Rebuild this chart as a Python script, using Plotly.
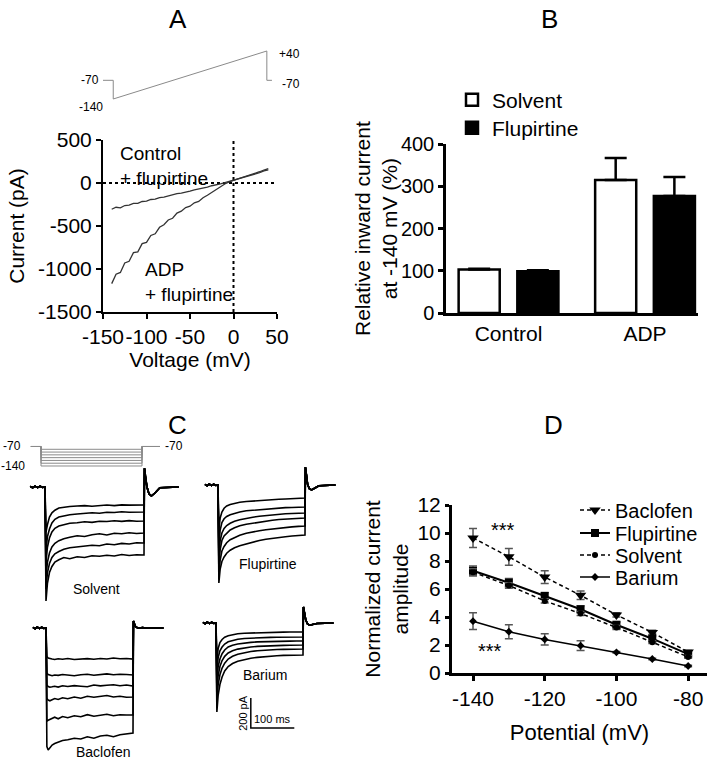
import plotly.graph_objects as go

W, H = 709, 762
FONT = "Liberation Sans, Arial, sans-serif"

# ---------------- Panel A data ----------------
ramp_mV = [-140, -135, -130, -125, -120, -115, -110, -105, -100, -95, -90, -85, -80,
           -75, -70, -65, -60, -55, -50, -45, -40, -35, -30, -25, -20, -15, -10, -5,
           0, 5, 10, 15, 20, 25, 30, 35, 40]
control_pA = [-305, -282, -290, -262, -258, -238, -236, -215, -210, -192, -188, -170, -163,
              -148, -140, -124, -117, -101, -94, -79, -70, -56, -47, -32, -24, -9, 4, 18,
              31, 46, 58, 76, 88, 106, 120, 140, 152]
adp_pA = [-1170, -1060, -1040, -930, -910, -810, -800, -705, -690, -610, -590, -515, -485,
          -430, -410, -350, -328, -285, -270, -230, -214, -172, -143, -108, -77, -39, -11, 13,
          29, 47, 61, 81, 97, 117, 131, 151, 168]
protoA_ms = [-20, 0, 0, 300, 300, 310]
protoA_mV = [-70, -70, -140, 40, -70, -70]
A_xtickvals = [-150, -100, -50, 0, 50]
A_xticktext = ["-150", "-100", "-50", "0", "50"]
A_ytickvals = [-1500, -1000, -500, 0, 500]
A_yticktext = ["-1500", "-1000", "-500", "0", "500"]

# ---------------- Panel B data ----------------
B_groups = ["Control", "ADP"]
B_solvent = [103, 315]
B_solvent_err = [2, 52]
B_flup = [99, 277]
B_flup_err = [2, 45]

# ---------------- Panel C data ----------------
C_pre_ms = [-30, -25, -20, -15, -10, -5, 0]
C_pre_pA = [4, -5, 6, -4, 5, -3, 0]
C_pulse_ms = [2, 5, 9, 14, 20, 28, 38, 50, 65, 80, 95, 110, 125, 140, 155, 170, 185, 200]
C_tail_ms = [201, 203, 206, 210, 215, 222, 232, 270]

solvent_traces = [
    [-300, -250, -200, -172, -155, -140, -135, -130, -127, -124, -128, -122, -120, -124, -119, -121, -118, -120],
    [-420, -330, -280, -240, -215, -200, -192, -185, -180, -177, -172, -175, -168, -170, -165, -168, -166, -167],
    [-500, -400, -340, -300, -275, -260, -250, -242, -238, -232, -236, -228, -230, -225, -229, -224, -228, -227],
    [-600, -500, -440, -400, -375, -358, -345, -335, -325, -330, -318, -312, -320, -308, -312, -305, -310, -307],
    [-680, -570, -510, -470, -445, -430, -415, -405, -400, -395, -388, -392, -380, -385, -376, -380, -372, -373],
    [-760, -640, -570, -530, -500, -485, -470, -478, -465, -470, -458, -462, -455, -460, -450, -457, -452, -453],
]
solvent_tail = [125, 60, 0, -45, -60, -40, -5, 0]

flupirtine_traces = [
    [-300, -220, -180, -155, -140, -130, -122, -115, -110, -106, -102, -100, -97, -95, -93, -90, -88, -87],
    [-400, -300, -250, -225, -210, -198, -188, -180, -172, -168, -163, -160, -157, -154, -151, -150, -148, -147],
    [-480, -370, -320, -290, -270, -255, -242, -232, -222, -215, -208, -203, -198, -195, -192, -190, -188, -187],
    [-540, -430, -370, -340, -320, -300, -285, -272, -262, -255, -245, -240, -235, -230, -228, -225, -222, -220],
    [-600, -500, -440, -410, -385, -365, -350, -335, -322, -312, -305, -298, -292, -287, -283, -279, -276, -273],
    [-653, -560, -510, -480, -455, -435, -418, -405, -392, -380, -370, -362, -355, -350, -345, -340, -336, -333],
]
flupirtine_tail = [120, 55, 5, -25, -33, -22, -5, 0]

baclofen_traces = [
    [-190, -200, -205, -207, -210, -205, -208, -203, -210, -206, -204, -208, -203, -207, -200, -205, -203, -207],
    [-300, -310, -315, -318, -313, -316, -310, -314, -318, -312, -308, -315, -310, -306, -312, -308, -310, -313],
    [-380, -390, -395, -392, -388, -394, -385, -390, -384, -388, -392, -380, -386, -382, -378, -385, -380, -387],
    [-470, -480, -485, -478, -470, -476, -465, -472, -460, -468, -455, -462, -458, -450, -460, -455, -462, -460],
    [-620, -615, -610, -600, -595, -605, -590, -598, -585, -592, -578, -588, -582, -575, -585, -578, -580, -580],
    [-790, -813, -800, -780, -770, -760, -750, -745, -735, -740, -725, -735, -720, -715, -725, -712, -708, -700],
]
baclofen_tail = [47, 25, 8, 2, 0, 3, -2, 0]

barium_traces = [
    [-250, -170, -130, -110, -95, -85, -78, -72, -68, -66, -64, -63, -62, -61, -61, -60, -60, -60],
    [-320, -230, -185, -160, -140, -125, -115, -108, -103, -100, -98, -97, -96, -95, -94, -94, -93, -93],
    [-390, -290, -240, -205, -180, -160, -148, -140, -133, -129, -126, -124, -123, -122, -121, -121, -120, -120],
    [-450, -350, -290, -250, -222, -200, -185, -174, -165, -160, -156, -153, -151, -150, -149, -148, -147, -147],
    [-520, -410, -345, -300, -268, -240, -222, -208, -197, -190, -185, -181, -179, -177, -176, -175, -174, -173],
    [-593, -480, -410, -360, -320, -290, -270, -255, -243, -235, -229, -224, -220, -218, -216, -215, -214, -213],
]
barium_tail = [107, 70, 25, -5, -15, -10, -3, 0]

protoC_ms = [-20, 0, 0, 200, 200, 235]
protoC_hold_mV = -70
protoC_steps_mV = [-80, -90, -100, -110, -120, -130, -140]
scalebar_pA = 200
scalebar_ms = 100

# ---------------- Panel D data ----------------
D_mV = [-140, -130, -120, -110, -100, -90, -80]
D_baclofen = [9.65, 8.3, 6.85, 5.55, 4.15, 2.9, 1.5]
D_baclofen_err = [0.68, 0.6, 0.45, 0.3, 0.15, 0.15, 0.1]
D_flupirtine = [7.3, 6.45, 5.5, 4.55, 3.45, 2.45, 1.35]
D_flupirtine_err = [0.35, 0.3, 0.25, 0.25, 0.2, 0.2, 0.15]
D_solvent = [7.2, 6.25, 5.15, 4.25, 3.25, 2.2, 1.15]
D_solvent_err = [0.25, 0.2, 0.15, 0.15, 0.15, 0.1, 0.1]
D_barium = [3.7, 2.95, 2.4, 1.95, 1.48, 1.0, 0.5]
D_barium_err = [0.6, 0.5, 0.4, 0.35, 0.05, 0.05, 0.05]
D_xtickvals = [-140, -120, -100, -80]
D_xticktext = ["-140", "-120", "-100", "-80"]


# ---------------- helpers (layout geometry) ----------------
def xdom(p0, p1):
    return [p0 / W, p1 / W]


def ydom(top, bottom):
    return [1 - bottom / H, 1 - top / H]


def map_x(r0, r1, v_a, px_a, k):
    return [(px_a + (r0 - v_a) * k) / W, (px_a + (r1 - v_a) * k) / W]


def map_y(r0, r1, v_a, py_a, k):
    bottom = py_a + (v_a - r0) * k
    top = py_a - (r1 - v_a) * k
    return [1 - bottom / H, 1 - top / H]


fig = go.Figure()
BLACK = "black"

# ---------------- Panel A ----------------
fig.add_trace(go.Scatter(x=[A_xtickvals[0], A_xtickvals[-1]], y=[0, 0], mode="lines",
                         line=dict(color=BLACK, width=2, dash="dot"), showlegend=False,
                         xaxis="x", yaxis="y", hoverinfo="skip"))
fig.add_trace(go.Scatter(x=[0, 0], y=[A_ytickvals[0], A_ytickvals[-1]], mode="lines",
                         line=dict(color=BLACK, width=2, dash="dot"), showlegend=False,
                         xaxis="x", yaxis="y", hoverinfo="skip"))
fig.add_trace(go.Scatter(x=ramp_mV, y=control_pA, mode="lines",
                         line=dict(color="#333333", width=1.3), showlegend=False,
                         xaxis="x", yaxis="y"))
fig.add_trace(go.Scatter(x=ramp_mV, y=adp_pA, mode="lines",
                         line=dict(color="#333333", width=1.3), showlegend=False,
                         xaxis="x", yaxis="y"))
# protocol A
fig.add_trace(go.Scatter(x=protoA_ms, y=protoA_mV, mode="lines",
                         line=dict(color="#8a8a8a", width=1), showlegend=False,
                         xaxis="x2", yaxis="y2", hoverinfo="skip"))

# ---------------- Panel B ----------------
fig.add_trace(go.Bar(x=B_groups, y=B_solvent, name="Solvent",
                     marker=dict(color="white", line=dict(color=BLACK, width=2.5)),
                     error_y=dict(type="data", symmetric=False, array=B_solvent_err,
                                  arrayminus=[0] * len(B_solvent_err), color=BLACK,
                                  thickness=2.5, width=11),
                     xaxis="x3", yaxis="y3", legend="legend"))
fig.add_trace(go.Bar(x=B_groups, y=B_flup, name="Flupirtine",
                     marker=dict(color=BLACK, line=dict(color=BLACK, width=2.5)),
                     error_y=dict(type="data", symmetric=False, array=B_flup_err,
                                  arrayminus=[0] * len(B_flup_err), color=BLACK,
                                  thickness=2.5, width=11),
                     xaxis="x3", yaxis="y3", legend="legend6"))

# ---------------- Panel C ----------------
C_panels = [
    ("x4", "y4", solvent_traces, solvent_tail),
    ("x5", "y5", flupirtine_traces, flupirtine_tail),
    ("x6", "y6", baclofen_traces, baclofen_tail),
    ("x7", "y7", barium_traces, barium_tail),
]
for xa, ya, traces, tail in C_panels:
    for tr in traces:
        fig.add_trace(go.Scatter(x=C_pre_ms + C_pulse_ms + C_tail_ms,
                                 y=C_pre_pA + tr + tail, mode="lines",
                                 line=dict(color=BLACK, width=1.6), showlegend=False,
                                 xaxis=xa, yaxis=ya, hoverinfo="skip"))

# protocol C
for v in protoC_steps_mV:
    fig.add_trace(go.Scatter(x=protoC_ms,
                             y=[protoC_hold_mV, protoC_hold_mV, v, v, protoC_hold_mV, protoC_hold_mV],
                             mode="lines", line=dict(color="#8a8a8a", width=1),
                             showlegend=False, xaxis="x8", yaxis="y8", hoverinfo="skip"))

# scale bar (barium axes)
SB_T0, SB_V0 = 80, -700
fig.add_trace(go.Scatter(x=[SB_T0, SB_T0, SB_T0 + scalebar_ms],
                         y=[SB_V0 + scalebar_pA, SB_V0, SB_V0], mode="lines",
                         line=dict(color=BLACK, width=1.5), showlegend=False,
                         xaxis="x7", yaxis="y7", hoverinfo="skip"))

# ---------------- Panel D ----------------
D_series = [
    ("Baclofen", D_baclofen, D_baclofen_err, "triangle-down", 10, "4px,3px", 1.5, "legend2"),
    ("Flupirtine", D_flupirtine, D_flupirtine_err, "square", 8, "solid", 2, "legend3"),
    ("Solvent", D_solvent, D_solvent_err, "circle", 6, "4px,3px", 1.5, "legend4"),
    ("Barium", D_barium, D_barium_err, "diamond", 6, "solid", 1.5, "legend5"),
]
for name, ys, err, sym, size, dash, lw, lg in D_series:
    fig.add_trace(go.Scatter(x=D_mV, y=ys, name=name, mode="lines+markers",
                             line=dict(color=BLACK, width=lw, dash=dash),
                             marker=dict(symbol=sym, size=size, color=BLACK),
                             error_y=dict(type="data", array=err, color="#555555",
                                          thickness=1.5, width=4),
                             cliponaxis=False, xaxis="x9", yaxis="y9", legend=lg))

# ---------------- Layout ----------------
tf = dict(family=FONT, size=21, color=BLACK)
tfB = dict(family=FONT, size=20, color=BLACK)
common_hidden = dict(visible=False, showgrid=False, zeroline=False, automargin=False)
vis = dict(automargin=False, showgrid=False, zeroline=False, showline=True,
           linecolor=BLACK, tickcolor=BLACK, tickangle=0)


def leg(px, py, size):
    return dict(x=px / W, y=1 - py / H, xanchor="left", yanchor="middle",
                font=dict(family=FONT, size=size, color=BLACK), bgcolor="rgba(0,0,0,0)",
                itemwidth=30, tracegroupgap=0)


layout = dict(
    template="none",
    width=W, height=H, margin=dict(l=0, r=0, t=0, b=0, pad=0, autoexpand=False),
    paper_bgcolor="white", plot_bgcolor="rgba(0,0,0,0)",
    font=dict(family=FONT, color=BLACK),
    bargap=0.14, bargroupgap=0.30, barmode="group",
    showlegend=True,
    legend=leg(452, 100, 21),
    legend6=leg(452, 128, 21),
    legend2=leg(575, 510, 20),
    legend3=leg(575, 533, 20),
    legend4=leg(575, 555, 20),
    legend5=leg(575, 577, 20),
    # A main
    xaxis=dict(domain=xdom(103, 277), range=[-150, 50], anchor="y", linewidth=2,
               ticks="outside", ticklen=5, tickwidth=2, tickvals=A_xtickvals,
               ticktext=A_xticktext, tickfont=tf,
               title=dict(text="Voltage (mV)", font=tf, standoff=5), **vis),
    yaxis=dict(domain=ydom(140, 312), range=[-1500, 500], anchor="x", linewidth=2,
               ticks="outside", ticklen=5, tickwidth=2, tickvals=A_ytickvals,
               ticktext=A_yticktext, tickfont=tf,
               title=dict(text="Current (pA)", font=tf, standoff=8), **vis),
    # A protocol
    xaxis2=dict(domain=map_x(-25, 315, -20, 103, 0.512), range=[-25, 315], anchor="y2", **common_hidden),
    yaxis2=dict(domain=map_y(-150, 50, -140, 99, 0.2667), range=[-150, 50], anchor="x2", **common_hidden),
    # B
    xaxis3=dict(domain=xdom(446, 698), type="category", range=[-0.458, 1.388], anchor="y3",
                linewidth=2.5, ticks="", tickfont=tf, **vis),
    yaxis3=dict(domain=ydom(144, 313), range=[0, 400], anchor="x3", linewidth=2.5,
                ticks="outside", ticklen=5, tickwidth=2.5, dtick=100, tickfont=tfB, **vis),
    # C subpanels
    xaxis4=dict(domain=map_x(-35, 280, 0, 45, 0.495), range=[-35, 280], anchor="y4", **common_hidden),
    yaxis4=dict(domain=map_y(-850, 200, 0, 487, 0.15), range=[-850, 200], anchor="x4", **common_hidden),
    xaxis5=dict(domain=map_x(-35, 280, 0, 218, 0.435), range=[-35, 280], anchor="y5", **common_hidden),
    yaxis5=dict(domain=map_y(-850, 200, 0, 485, 0.15), range=[-850, 200], anchor="x5", **common_hidden),
    xaxis6=dict(domain=map_x(-35, 280, 0, 46, 0.435), range=[-35, 280], anchor="y6", **common_hidden),
    yaxis6=dict(domain=map_y(-850, 200, 0, 628, 0.15), range=[-850, 200], anchor="x6", **common_hidden),
    xaxis7=dict(domain=map_x(-35, 280, 0, 216, 0.435), range=[-35, 280], anchor="y7", **common_hidden),
    yaxis7=dict(domain=map_y(-850, 200, 0, 623, 0.15), range=[-850, 200], anchor="x7", **common_hidden),
    # C protocol
    xaxis8=dict(domain=map_x(-25, 240, 0, 41, 0.505), range=[-25, 240], anchor="y8", **common_hidden),
    yaxis8=dict(domain=map_y(-145, -65, -70, 446.5, 0.2786), range=[-145, -65], anchor="x8", **common_hidden),
    # D
    xaxis9=dict(domain=xdom(452, 707), range=[-145.86, -74.74], anchor="y9", linewidth=3,
                ticks="outside", ticklen=5, tickwidth=2.5, tickvals=D_xtickvals,
                ticktext=D_xticktext, tickfont=tf,
                title=dict(text="Potential (mV)", font=dict(family=FONT, size=22, color=BLACK), standoff=16), **vis),
    yaxis9=dict(domain=ydom(505, 673), range=[0, 12], anchor="x9", linewidth=3,
                ticks="outside", ticklen=4, tickwidth=2.5, dtick=2, tickfont=tf,
                title=dict(text="Normalized current<br>amplitude", font=tf, standoff=4), **vis),
)
fig.update_layout(**layout)

ann = []
# panel letters
for txt, px, py in [("A", 178, 19), ("B", 549, 19), ("C", 177, 425), ("D", 553, 425)]:
    ann.append(dict(text=txt, x=px / W, y=1 - py / H, xref="paper", yref="paper",
                    xanchor="center", yanchor="middle",
                    showarrow=False, font=dict(family=FONT, size=26, color=BLACK)))
# panel B y-axis title
ann.append(dict(text="Relative inward current<br>at -140 mV (%)", x=376 / W, y=1 - 228 / H,
                xref="paper", yref="paper", xanchor="center", yanchor="middle",
                textangle=-90, showarrow=False, font=tf))
# panel A texts
fa = dict(family=FONT, size=19, color=BLACK)
ann += [
    dict(text="Control<br>+ flupirtine", x=-133, y=200, xref="x", yref="y", xanchor="left",
         align="left", showarrow=False, font=fa),
    dict(text="ADP<br>+ flupirtine", x=-104, y=-1150, xref="x", yref="y", xanchor="left",
         align="left", showarrow=False, font=fa),
]
fp = dict(family=FONT, size=12, color=BLACK)
ann += [
    dict(text="-70", x=-20, y=-70, xref="x2", yref="y2", xanchor="right", xshift=-2, showarrow=False, font=fp),
    dict(text="-140", x=0, y=-140, xref="x2", yref="y2", xanchor="right", xshift=-8, yshift=-8, showarrow=False, font=fp),
    dict(text="+40", x=300, y=40, xref="x2", yref="y2", xanchor="left", xshift=10, yshift=-3, showarrow=False, font=fp),
    dict(text="-70", x=310, y=-70, xref="x2", yref="y2", xanchor="left", xshift=8, yshift=-4, showarrow=False, font=fp),
    dict(text="-70", x=-20, y=-70, xref="x8", yref="y8", xanchor="right", xshift=-8, showarrow=False, font=fp),
    dict(text="-140", x=-20, y=-140, xref="x8", yref="y8", xanchor="right", xshift=-4, showarrow=False, font=fp),
    dict(text="-70", x=235, y=-70, xref="x8", yref="y8", xanchor="left", xshift=3, showarrow=False, font=fp),
]
fc = dict(family=FONT, size=14, color=BLACK)
ann += [
    dict(text="Solvent", x=105, y=-680, xref="x4", yref="y4", showarrow=False, font=fc),
    dict(text="Flupirtine", x=115, y=-527, xref="x5", yref="y5", showarrow=False, font=fc),
    dict(text="Baclofen", x=131, y=-827, xref="x6", yref="y6", showarrow=False, font=fc),
    dict(text="Barium", x=113, y=-347, xref="x7", yref="y7", showarrow=False, font=fc),
    dict(text="200 pA", x=SB_T0, y=SB_V0 + scalebar_pA / 2, xref="x7", yref="y7", textangle=-90,
         xshift=-8, showarrow=False, font=dict(family=FONT, size=11, color=BLACK)),
    dict(text="100 ms", x=SB_T0 + scalebar_ms / 2, y=SB_V0, xref="x7", yref="y7", yanchor="bottom",
         yshift=1, showarrow=False, font=dict(family=FONT, size=11, color=BLACK)),
]
# panel D significance
ann += [
    dict(text="***", x=-131.5, y=10.2, xref="x9", yref="y9", showarrow=False,
         font=dict(family=FONT, size=20, color=BLACK)),
    dict(text="***", x=-135.3, y=1.6, xref="x9", yref="y9", showarrow=False,
         font=dict(family=FONT, size=20, color=BLACK)),
]
fig.update_layout(annotations=ann)

fig.write_html("out.html", config={"displayModeBar": False},
               post_script="document.body.style.margin='0';")
